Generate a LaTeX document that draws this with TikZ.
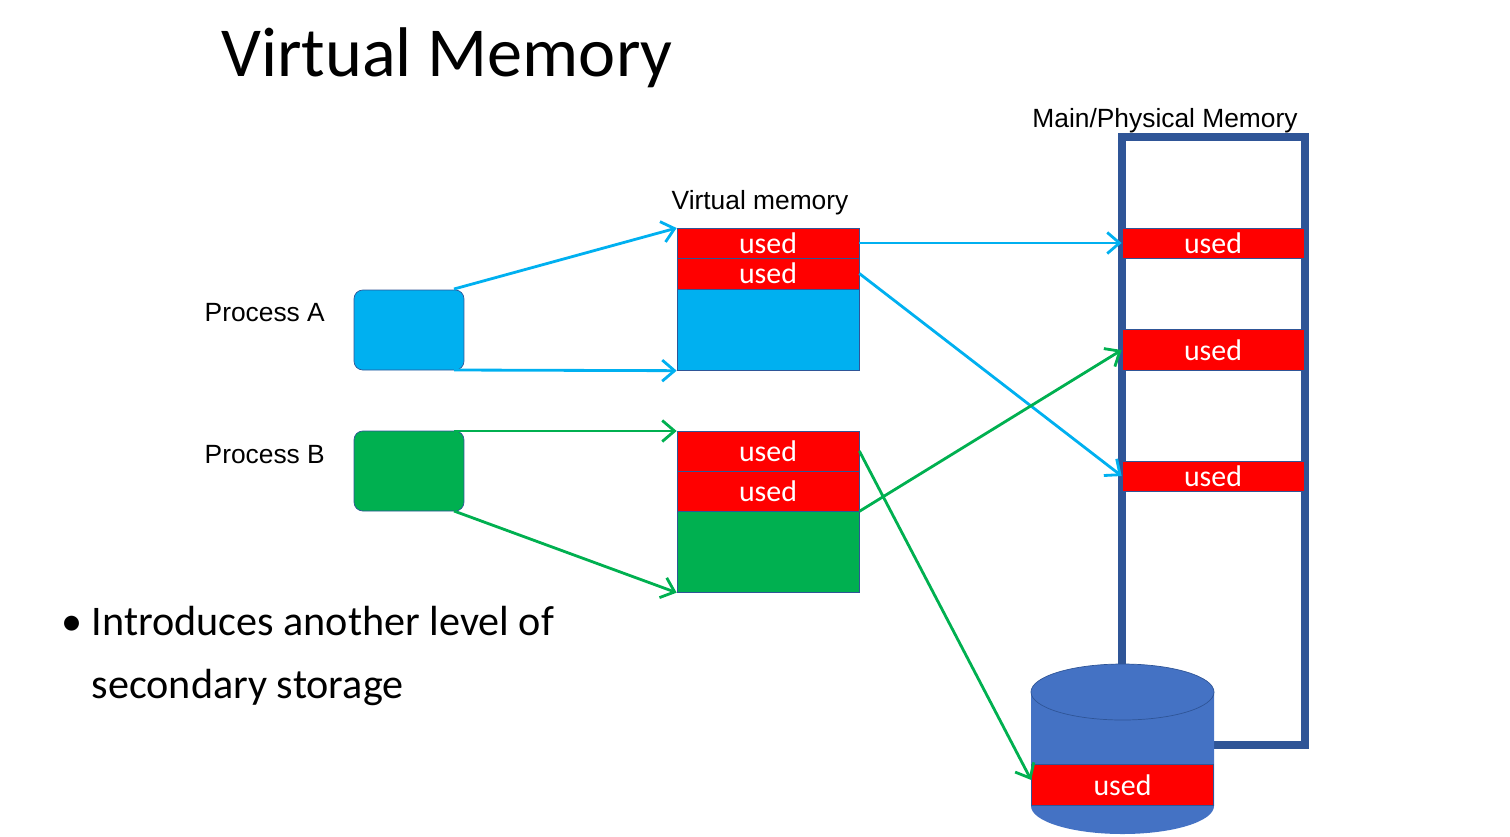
\documentclass[tikz,border=0pt]{standalone}
\usepackage{fontspec}
\setmainfont{Carlito}
\newfontfamily\arialfont{Liberation Sans}
\usetikzlibrary{arrows.meta,positioning,calc}
\definecolor{procblue}{RGB}{0,176,240}
\definecolor{procgreen}{RGB}{0,176,80}
\definecolor{usedred}{RGB}{255,0,0}
\definecolor{framenavy}{RGB}{47,85,151}
\definecolor{diskblue}{RGB}{68,114,196}
\begin{document}
\begin{tikzpicture}[x=0.02cm,y=-0.02cm,
    proc/.style={draw=framenavy,rounded corners=5pt,minimum width=2.2cm,minimum height=1.6cm,inner sep=0pt},
    vmem/.style={draw=framenavy,minimum width=3.64cm,inner sep=0pt,anchor=north},
    used/.style={draw=framenavy,fill=usedred,text=white,font=\fontsize{17}{17}\selectfont,minimum width=3.64cm,inner sep=0pt},
    lbl/.style={font=\arialfont\fontsize{15}{15}\selectfont},
    link/.style={line width=1.6pt,-{Straight Barb[length=7pt,width=12pt]}}
  ]
  \useasboundingbox (0,0) rectangle (1510,836);

  % title and bullet text
  \node[font=\fontsize{40}{40}\selectfont,anchor=west] (title) at (215,58) {Virtual Memory};
  \node[font=\fontsize{24}{36}\selectfont,anchor=north west,align=left] (bullet) at (55,600)
    {\textbullet\ Introduces another level of\\\phantom{\textbullet\ }secondary storage};

  % processes
  \node[proc,fill=procblue] (pa) at (409,330) {};
  \node[proc,fill=procgreen] (pb) at (409,471) {};
  \node[lbl,anchor=east] (pa_l) at (331,313) {Process A};
  \node[lbl,anchor=east] (pb_l) at (331,455) {Process B};

  % virtual memory
  \node[vmem,fill=procblue,minimum height=2.84cm] (va) at (768,228) {};
  \node[vmem,fill=procgreen,minimum height=3.22cm] (vb) at (768,431) {};
  \node[used,minimum height=0.6cm] (va_1) at (768,243) {used};
  \node[used,minimum height=0.62cm] (va_2) at (768,273.5) {used};
  \node[used,minimum height=0.8cm] (vb_1) at (768,451) {used};
  \node[used,minimum height=0.8cm] (vb_2) at (768,491) {used};
  \node[lbl] (v_l) at (760,203) {Virtual memory};

  % physical memory
  \draw[framenavy,line width=4.5pt] (1122,137) rectangle (1305,745);
  \node[used,minimum height=0.6cm] (m_1) at (1213,243) {used};
  \node[used,minimum height=0.82cm] (m_2) at (1213,350) {used};
  \node[used,minimum height=0.6cm] (m_3) at (1213,476) {used};
  \node[lbl] (m_l) at (1165,121) {Main/Physical Memory};

  % disk
  \fill[diskblue] (1031,692) -- (1031,806) arc[start angle=180,end angle=360,x radius=91.5,y radius=-28] -- (1214,692) -- cycle;
  \draw[framenavy,fill=diskblue] (1122.5,692) ellipse[x radius=91.5,y radius=28];
  \node[used,minimum height=0.82cm] (d_1) at (1122.5,785) {used};

  % links
  \coordinate (pa_t) at (454,289);
  \coordinate (pa_b) at (454,370);
  \coordinate (pb_t) at (454,431);
  \coordinate (pb_b) at (454,511);
  \draw[link,procblue] (pa_t) -- (va.north west);
  \draw[link,procblue] (pa_b) -- (va.south west);
  \draw[link,procgreen] (pb_t) -- (vb.north west);
  \draw[link,procgreen] (pb_b) -- (vb.south west);
  \draw[link,procblue] (va_1.east) -- (m_1.west);
  \draw[link,procblue] (va_2.east) -- (m_3.west);
  \draw[link,procgreen] (vb_2.south east) -- (m_2.west);
  \draw[link,procgreen] (vb_1.east) -- ($(d_1.west)+(0,-5)$);
\end{tikzpicture}
\end{document}
